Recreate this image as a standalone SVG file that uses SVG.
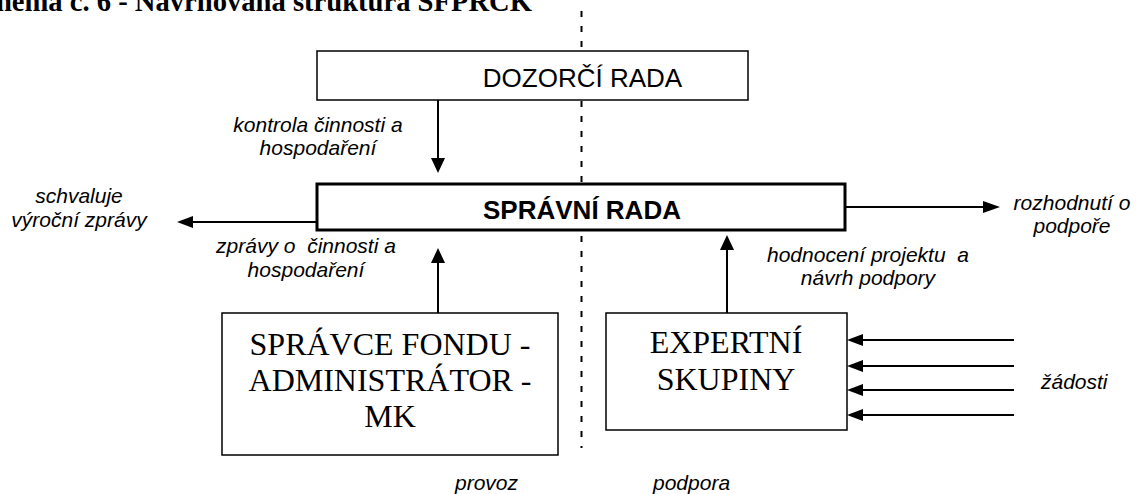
<svg xmlns="http://www.w3.org/2000/svg" width="1148" height="494" viewBox="0 0 1148 494">
<style>
.box{fill:#fff;stroke:#000;stroke-width:1.5}
.thick{fill:#fff;stroke:#000;stroke-width:3}
.hdr{font-family:"Liberation Sans",Arial,sans-serif;font-size:26px;text-anchor:middle;fill:#000}
.tm{font-family:"Liberation Serif","Times New Roman",serif;font-size:32px;text-anchor:middle;fill:#000}
.lbl{font-family:"Liberation Sans",Arial,sans-serif;font-size:21px;font-style:italic;fill:#000}
.c{text-anchor:middle}
.ln{stroke:#000;stroke-width:2;fill:none}
.dash{stroke:#000;stroke-width:2;stroke-dasharray:6 9;fill:none}
</style>
<rect width="1148" height="494" fill="#fff"/>
<text x="532" y="11" text-anchor="end" font-family="'Liberation Serif','Times New Roman',serif" font-size="28.6" font-weight="bold">hema č. 6 - Navrhovaná struktura SFPRCK</text>
<line class="dash" x1="581.5" y1="11" x2="581.5" y2="448"/>
<g id="connectors">
<line class="ln" x1="438" y1="100" x2="438" y2="160"/>
<polygon points="431,158 445,158 438,173"/>
<line class="ln" x1="317" y1="222" x2="190" y2="222"/>
<polygon points="193,216 193,228 177,222"/>
<line class="ln" x1="845" y1="207" x2="985" y2="207"/>
<polygon points="983,201 983,213 1000,207"/>
<line class="ln" x1="438" y1="313" x2="438" y2="260"/>
<polygon points="431,263 445,263 438,248"/>
<line class="ln" x1="727" y1="313" x2="727" y2="247"/>
<polygon points="720,250 734,250 727,235"/>
<line class="ln" x1="1014" y1="340" x2="860" y2="340"/>
<polygon points="863,334 863,346 847,340"/>
<line class="ln" x1="1014" y1="366" x2="860" y2="366"/>
<polygon points="863,360 863,372 847,366"/>
<line class="ln" x1="1014" y1="390" x2="860" y2="390"/>
<polygon points="863,384 863,396 847,390"/>
<line class="ln" x1="1014" y1="415" x2="860" y2="415"/>
<polygon points="863,409 863,421 847,415"/>
</g>
<g id="dozorci">
<rect class="box" x="317" y="51" width="431" height="49"/>
<text class="hdr" x="582.5" y="87">DOZORČÍ RADA</text>
</g>
<g id="spravni">
<rect class="thick" x="317" y="184" width="528" height="46"/>
<text class="hdr" x="582" y="219" font-weight="bold">SPRÁVNÍ RADA</text>
</g>
<g id="spravce">
<rect class="box" x="222" y="313" width="336" height="142"/>
<text class="tm" x="390" y="355">SPRÁVCE FONDU -</text>
<text class="tm" x="390" y="391">ADMINISTRÁTOR -</text>
<text class="tm" x="390" y="427">MK</text>
</g>
<g id="expertni">
<rect class="box" x="606" y="313" width="241" height="117"/>
<text class="tm" x="726" y="353">EXPERTNÍ</text>
<text class="tm" x="726" y="390">SKUPINY</text>
</g>
<g id="labels">
<text class="lbl c" x="318" y="132">kontrola činnosti a</text>
<text class="lbl c" x="318" y="155">hospodaření</text>
<text class="lbl c" x="79" y="203">schvaluje</text>
<text class="lbl c" x="79" y="227">výroční zprávy</text>
<text class="lbl c" x="306" y="253" xml:space="preserve">zprávy o  činnosti a</text>
<text class="lbl c" x="306" y="277">hospodaření</text>
<text class="lbl c" x="1072" y="210">rozhodnutí o</text>
<text class="lbl c" x="1072" y="233">podpoře</text>
<text class="lbl c" x="868" y="262" xml:space="preserve">hodnocení projektu  a</text>
<text class="lbl c" x="868" y="285">návrh podpory</text>
<text class="lbl" x="1041" y="389">žádosti</text>
<text class="lbl" x="455" y="490">provoz</text>
<text class="lbl" x="653" y="490">podpora</text>
</g>
</svg>
